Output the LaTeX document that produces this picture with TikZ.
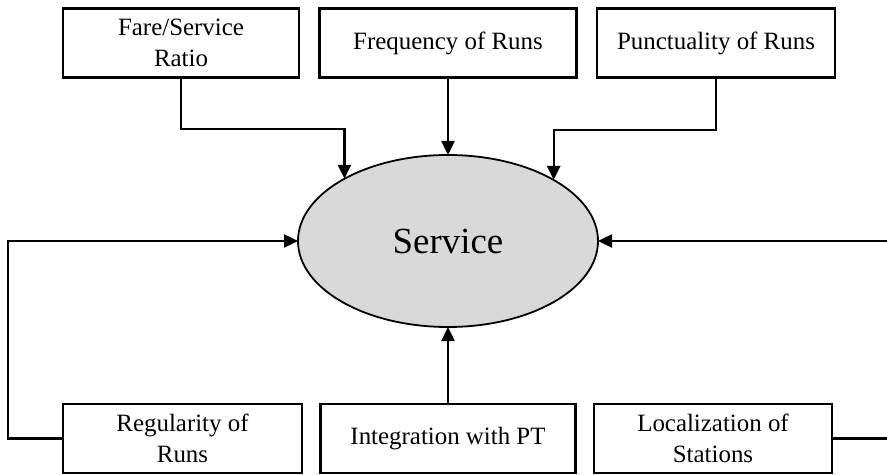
\documentclass[tikz,border=0pt]{standalone}
\usepackage{fontspec}
\setmainfont{Liberation Serif}
\usetikzlibrary{arrows.meta, shapes.geometric}

\tikzset{
    factor/.style={draw, line width=2.6bp, minimum width=#1, minimum height=69bp,
        inner sep=0pt, outer sep=0pt, align=center, font=\fontsize{25}{31}\selectfont},
    hub/.style={ellipse, draw, line width=1.8bp, fill=black!15, minimum width=300bp,
        minimum height=172bp, inner sep=0pt, outer sep=0pt, font=\fontsize{37}{40}\selectfont},
    flow/.style={line width=2.4bp, -{Triangle[length=14bp, width=13bp]}},
}

\begin{document}
\begin{tikzpicture}[x=1bp, y=-1bp]

    % Picture size (pixels of the reference)
    \def\W{887}
    \def\H{475}
    \def\ytop{43}      % centre of the upper boxes
    \def\ybot{438.5}   % centre of the lower boxes
    \def\lift{50bp}    % height of the elbows above the ellipse

    \useasboundingbox (0,0) rectangle (\W,\H);
    \clip (0,0) rectangle (\W,\H);

    % Central node
    \node[hub] (service) at (448,241) {Service};

    % Upper factors
    \node[factor=236bp] (fare)  at (181,\ytop) {Fare/Service\\Ratio};
    \node[factor=257bp] (freq)  at (448,\ytop) {Frequency of Runs};
    \node[factor=238bp] (punct) at (716,\ytop) {Punctuality of Runs};

    % Lower factors
    \node[factor=239bp] (regul) at (182.5,\ybot) {Regularity of\\Runs};
    \node[factor=255bp] (integ) at (448,\ybot) {Integration with PT};
    \node[factor=238bp] (local) at (713,\ybot) {Localization of\\Stations};

    % Side rails (the right one runs past the edge)
    \coordinate (leftrail)  at (8,0);
    \coordinate (rightrail) at (892,0);

    % Connectors
    \draw[flow] (fare.south) |- ([yshift=\lift]service.149) -- (service.149);
    \draw[flow] (freq.south) -- (service.north);
    \draw[flow] (punct.south) |- ([yshift=\lift]service.30) -- (service.30);
    \draw[flow] (integ.north) -- (service.south);
    \draw[flow] (regul.west) -| (leftrail |- service) -- (service.west);
    \draw[flow] (local.east) -| (rightrail |- service) -- (service.east);

\end{tikzpicture}
\end{document}
